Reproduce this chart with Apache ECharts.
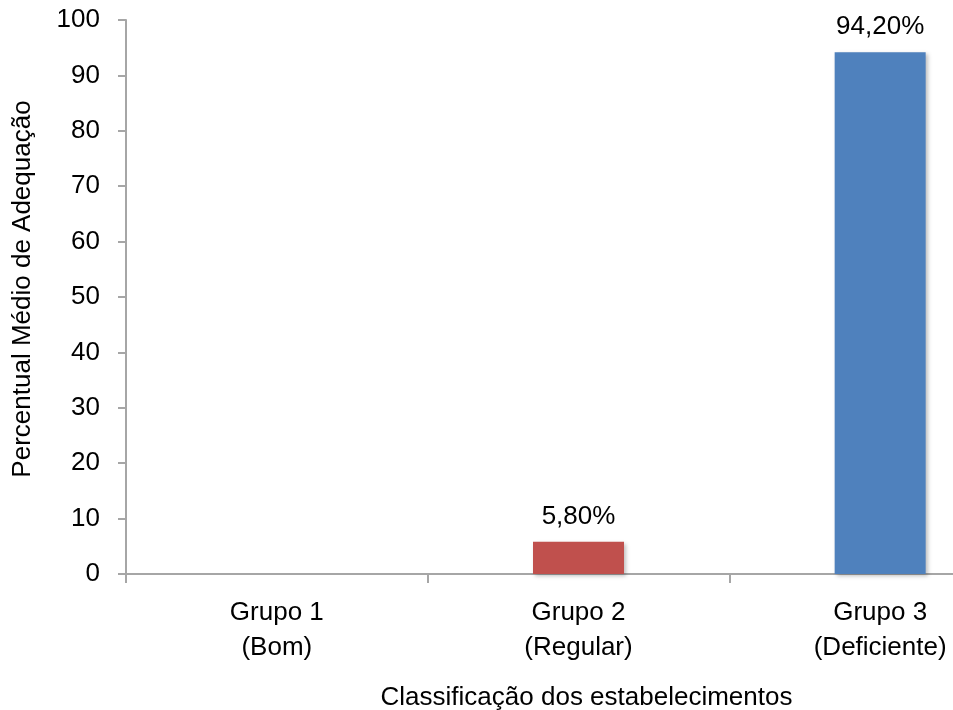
<!DOCTYPE html>
<html>
<head>
<meta charset="utf-8">
<style>
  html, body { margin: 0; padding: 0; background: #fff; }
  #chart { width: 953px; height: 710px; }
</style>
<script src="https://cdn.jsdelivr.net/npm/echarts@6/dist/echarts.min.js"></script>
</head>
<body>
<div id="chart"></div>
<script>
// Classification groups and their mean adequacy percentage
const categories = ['Grupo 1\n(Bom)', 'Grupo 2\n(Regular)', 'Grupo 3\n(Deficiente)'];
const values = [0, 5.8, 94.2];
const barColors = ['#4F81BD', '#C0504D', '#4F81BD'];
const yTicks = { min: 0, max: 100, interval: 10 };

const FONT = '"Liberation Sans", Arial, sans-serif';
const AXIS_GRAY = '#A6A6A6';

const chart = echarts.init(document.getElementById('chart'), null, { renderer: 'canvas' });

chart.setOption({
  animation: false,
  backgroundColor: '#ffffff',
  // the plot runs past the right edge of the canvas, so the last category is cut off
  grid: { left: 126, top: 20, bottom: 136, right: -78, containLabel: false, outerBoundsMode: 'none' },
  xAxis: {
    type: 'category',
    data: categories,
    name: 'Classificação dos estabelecimentos',
    nameLocation: 'middle',
    nameGap: 111,
    nameTextStyle: { fontFamily: FONT, fontSize: 26, color: '#000', padding: [0, 0, 0, 16] },
    axisLine: { lineStyle: { color: AXIS_GRAY, width: 2 } },
    axisTick: { show: true, alignWithLabel: false, length: 9, lineStyle: { color: AXIS_GRAY, width: 2 } },
    axisLabel: { interval: 0, margin: 21, fontFamily: FONT, fontSize: 26, color: '#000', lineHeight: 35 }
  },
  yAxis: {
    type: 'value',
    min: yTicks.min,
    max: yTicks.max,
    interval: yTicks.interval,
    name: 'Percentual Médio de Adequação',
    nameLocation: 'middle',
    nameGap: 90,
    nameTextStyle: { fontFamily: FONT, fontSize: 26, color: '#000', padding: [0, 0, 0, 16] },
    axisLine: { show: true, lineStyle: { color: AXIS_GRAY, width: 2 } },
    axisTick: { show: true, length: 8, lineStyle: { color: AXIS_GRAY, width: 2 } },
    axisLabel: { margin: 26, fontFamily: FONT, fontSize: 26, color: '#000' },
    splitLine: { show: false }
  },
  series: [{
    type: 'bar',
    data: values.map((v, i) => ({ value: v, itemStyle: { color: barColors[i] } })),
    barWidth: 91,
    itemStyle: {
      shadowBlur: 4,
      shadowOffsetX: 2,
      shadowOffsetY: 2,
      shadowColor: 'rgba(0,0,0,0.25)'
    },
    label: {
      show: true,
      position: 'top',
      distance: 12,
      fontFamily: FONT,
      fontSize: 26,
      color: '#000',
      formatter: p => p.value > 0 ? p.value.toFixed(2).replace('.', ',') + '%' : ''
    }
  }]
});
</script>
</body>
</html>
